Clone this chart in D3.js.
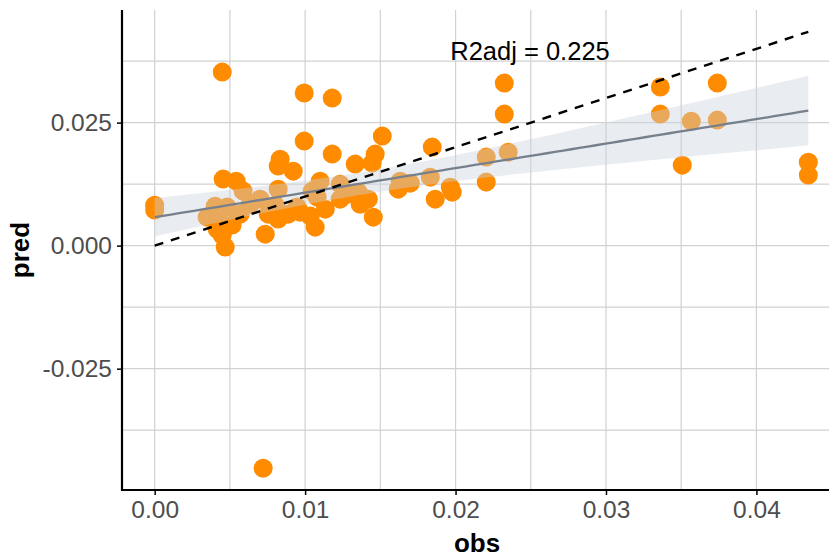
<!DOCTYPE html>
<html>
<head>
<meta charset="utf-8">
<script src="https://cdn.jsdelivr.net/npm/d3@7"></script>
<style>
  body { margin: 0; background: #fff; }
  text { font-family: "Liberation Sans", Arial, sans-serif; }
</style>
</head>
<body>
<div id="scatter"></div>
<script>
let obs = [
  0.0000, 0.0000, 0.00449, 0.00994, 0.01180, 0.00994, 0.01513, 0.00834, 0.00921, 0.01180,
  0.01333, 0.01466, 0.01446, 0.01100, 0.01047, 0.01080, 0.01233, 0.01134, 0.01067, 0.01453,
  0.01619, 0.00947, 0.00455, 0.00542, 0.00588, 0.00821, 0.00821, 0.00801, 0.00821, 0.00735,
  0.00469, 0.00449, 0.00402, 0.00422, 0.00349, 0.00416, 0.00482, 0.00721, 0.02324, 0.02324,
  0.01845, 0.02204, 0.02350, 0.02204, 0.01832, 0.01699, 0.01865, 0.01965, 0.01978, 0.01632,
  0.03361, 0.03361, 0.03567, 0.03740, 0.03740, 0.03507, 0.04345, 0.04345, 0.01353, 0.01420,
  0.01233, 0.00701, 0.00635, 0.00568, 0.00515, 0.00967, 0.01034, 0.01287, 0.00888, 0.00755,
  0.01366
];

let pred = [
  0.00823, 0.00722, 0.03526, 0.03100, 0.02998, 0.02124, 0.02226, 0.01758, 0.01514, 0.01860,
  0.01657, 0.01860, 0.01677, 0.01311, 0.01108, 0.00986, 0.00945, 0.00742, 0.00376, 0.00579,
  0.01148, 0.00783, 0.01352, 0.01311, 0.01108, 0.01616, 0.01148, 0.00823, 0.00539, 0.00234,
  -0.00030, 0.00213, 0.00803, 0.00600, 0.00579, 0.00335, 0.00783, -0.04522, 0.03303, 0.02673,
  0.02002, 0.01799, 0.01900, 0.01291, 0.01392, 0.01270, 0.00945, 0.01189, 0.01087, 0.01311,
  0.03222, 0.02673, 0.02530, 0.03303, 0.02551, 0.01636, 0.01697, 0.01433, 0.01087, 0.00945,
  0.01250, 0.00945, 0.00843, 0.00640, 0.00417, 0.00681, 0.00600, 0.01047, 0.00640, 0.00640,
  0.00843
];

let xTicks = [0, 0.01, 0.02, 0.03, 0.04];
let xMinor = [0.005, 0.015, 0.025, 0.035, 0.045];
let yTicks = [-0.025, 0, 0.025];
let yMinor = [-0.0375, -0.0125, 0.0125, 0.0375];
let r2Label = "R2adj = 0.225";

// Define variables
let svgWidth = 829;
let svgHeight = 558;

let panel = { left: 122, right: 841, top: 10, bottom: 490 };

let data = obs.map((d, i) => ({ obs: d, pred: pred[i] }));

let svg = d3.select("#scatter")
  .append("svg")
  .attr("width", svgWidth)
  .attr("height", svgHeight);

// ggplot style scales with 5% expansion
let xMax = d3.max(obs);
let yLo = d3.min(pred);
let yHi = Math.max(d3.max(pred), xMax);
let xPad = 0.05 * xMax;
let yPad = 0.05 * (yHi - yLo);

let xScale = d3.scaleLinear()
  .domain([0 - xPad, xMax + xPad])
  .range([panel.left, panel.right]);

let yScale = d3.scaleLinear()
  .domain([yLo - yPad, yHi + yPad])
  .range([panel.bottom, panel.top]);

// grid lines
let grid = svg.append("g");
grid.selectAll(".vgrid")
  .data(xTicks.concat(xMinor))
  .enter()
  .append("line")
  .attr("x1", d => xScale(d))
  .attr("x2", d => xScale(d))
  .attr("y1", panel.top)
  .attr("y2", panel.bottom)
  .attr("stroke", "#d1d1d1")
  .attr("stroke-width", 1.2);

grid.selectAll(".hgrid")
  .data(yTicks.concat(yMinor))
  .enter()
  .append("line")
  .attr("x1", panel.left)
  .attr("x2", panel.right)
  .attr("y1", d => yScale(d))
  .attr("y2", d => yScale(d))
  .attr("stroke", "#d1d1d1")
  .attr("stroke-width", 1.2);

// points
svg.append("g").selectAll("circle")
  .data(data)
  .enter()
  .append("circle")
  .attr("cx", d => xScale(d.obs))
  .attr("cy", d => yScale(d.pred))
  .attr("r", 9.5)
  .attr("fill", "#ff8c00");

// linear fit with 95% confidence band
let n = data.length;
let xbar = d3.mean(obs);
let ybar = d3.mean(pred);
let sxx = d3.sum(obs, d => (d - xbar) * (d - xbar));
let sxy = d3.sum(data, d => (d.obs - xbar) * (d.pred - ybar));
let slope = sxy / sxx;
let intercept = ybar - slope * xbar;
let rss = d3.sum(data, d => Math.pow(d.pred - (intercept + slope * d.obs), 2));
let sigma = Math.sqrt(rss / (n - 2));
let tval = 1.995;

let fit = d3.range(81).map(i => {
  let x = xMax * i / 80;
  let yhat = intercept + slope * x;
  let se = sigma * Math.sqrt(1 / n + (x - xbar) * (x - xbar) / sxx);
  return { x: x, y: yhat, lo: yhat - tval * se, hi: yhat + tval * se };
});

svg.append("path")
  .datum(fit)
  .attr("d", d3.area()
    .x(d => xScale(d.x))
    .y0(d => yScale(d.lo))
    .y1(d => yScale(d.hi)))
  .attr("fill", "#cbd1dc")
  .attr("opacity", 0.42);

svg.append("path")
  .datum(fit)
  .attr("d", d3.line()
    .x(d => xScale(d.x))
    .y(d => yScale(d.y)))
  .attr("fill", "none")
  .attr("stroke", "#76808d")
  .attr("stroke-width", 2.3);

// 1:1 line
svg.append("path")
  .datum([0, xMax])
  .attr("d", d3.line()
    .x(d => xScale(d))
    .y(d => yScale(d)))
  .attr("fill", "none")
  .attr("stroke", "#000")
  .attr("stroke-width", 2.4)
  .attr("stroke-dasharray", "9,8");

// annotation
svg.append("text")
  .attr("x", 530)
  .attr("y", 60)
  .attr("text-anchor", "middle")
  .attr("font-size", "25.5px")
  .attr("fill", "#000")
  .text(r2Label);

// plain hyphen for negatives, like the original
let fmt = p => (d => d3.format("." + p + "f")(d).replace("\u2212", "-"));

// axes
let bottomAxis = d3.axisBottom(xScale)
  .tickValues(xTicks)
  .tickFormat(fmt(2))
  .tickSize(5)
  .tickPadding(6);

let leftAxis = d3.axisLeft(yScale)
  .tickValues(yTicks)
  .tickFormat(fmt(3))
  .tickSize(5)
  .tickPadding(5);

let xAxis = svg.append("g")
  .attr("transform", `translate(0, ${panel.bottom})`)
  .call(bottomAxis);

let yAxis = svg.append("g")
  .attr("transform", `translate(${panel.left}, 0)`)
  .call(leftAxis);

[xAxis, yAxis].forEach(ax => {
  ax.select(".domain").remove();
  ax.selectAll(".tick line").attr("stroke", "#000").attr("stroke-width", 1.5);
  ax.selectAll(".tick text")
    .attr("fill", "#4d4d4d")
    .attr("font-size", "24.5px")
    .attr("font-family", "'Liberation Sans', Arial, sans-serif");
});

// axis lines
svg.append("line")
  .attr("x1", panel.left).attr("x2", panel.left)
  .attr("y1", panel.top).attr("y2", panel.bottom + 1)
  .attr("stroke", "#000").attr("stroke-width", 2.2);

svg.append("line")
  .attr("x1", panel.left - 1).attr("x2", svgWidth)
  .attr("y1", panel.bottom).attr("y2", panel.bottom)
  .attr("stroke", "#000").attr("stroke-width", 2.2);

// axis titles
svg.append("text")
  .attr("x", 477)
  .attr("y", 552)
  .attr("text-anchor", "middle")
  .attr("font-size", "26px")
  .attr("font-weight", "bold")
  .text("obs");

svg.append("text")
  .attr("transform", "translate(29, 250) rotate(-90)")
  .attr("text-anchor", "middle")
  .attr("font-size", "26px")
  .attr("font-weight", "bold")
  .text("pred");
</script>
</body>
</html>
